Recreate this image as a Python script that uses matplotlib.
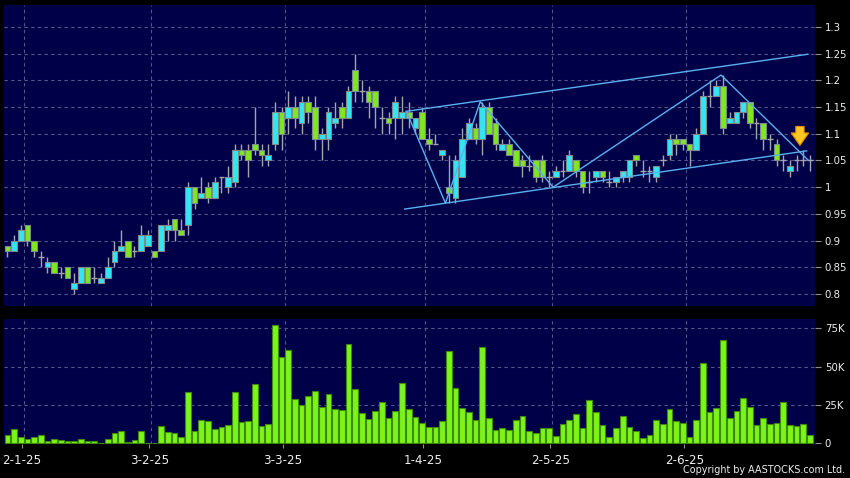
import matplotlib
matplotlib.use("Agg")
import matplotlib.pyplot as plt
import numpy as np

# ---------------- data ----------------
opens = [0.89, 0.88, 0.90, 0.93, 0.90, 0.87, 0.85, 0.86, 0.84, 0.85,
         0.81, 0.82, 0.85, 0.83, 0.82, 0.83, 0.86, 0.88, 0.90, 0.88,
         0.88, 0.89, 0.88, 0.88, 0.92, 0.94, 0.92, 0.93, 1.00, 0.98,
         1.00, 0.98, 1.02, 1.00, 1.01, 1.07, 1.07, 1.08, 1.07, 1.05,
         1.08, 1.14, 1.13, 1.15, 1.12, 1.16, 1.15, 1.09, 1.09, 1.12,
         1.15, 1.13, 1.22, 1.18, 1.18, 1.18, 1.13, 1.13, 1.13, 1.13,
         1.14, 1.11, 1.14, 1.09, 1.08, 1.06, 1.00, 0.98, 1.02, 1.09,
         1.11, 1.09, 1.15, 1.12, 1.07, 1.08, 1.07, 1.05, 1.04, 1.05,
         1.05, 1.02, 1.02, 1.03, 1.03, 1.05, 1.03, 1.01, 1.02, 1.03,
         1.01, 1.01, 1.02, 1.02, 1.06, 1.03, 1.03, 1.02, 1.05, 1.06,
         1.09, 1.09, 1.08, 1.07, 1.10, 1.17, 1.17, 1.19, 1.12, 1.12,
         1.14, 1.16, 1.12, 1.12, 1.09, 1.08, 1.05, 1.03, 1.05, 1.05,
         1.05]
highs = [0.89, 0.91, 0.93, 0.93, 0.90, 0.88, 0.87, 0.86, 0.85, 0.85,
         0.84, 0.85, 0.85, 0.85, 0.84, 0.87, 0.90, 0.92, 0.90, 0.89,
         0.93, 0.92, 0.88, 0.93, 0.94, 0.94, 0.94, 1.01, 1.00, 1.02,
         1.01, 1.02, 1.02, 1.04, 1.08, 1.08, 1.08, 1.15, 1.08, 1.08,
         1.16, 1.15, 1.18, 1.17, 1.17, 1.17, 1.17, 1.11, 1.15, 1.16,
         1.16, 1.19, 1.25, 1.20, 1.19, 1.18, 1.15, 1.14, 1.17, 1.17,
         1.16, 1.13, 1.15, 1.11, 1.10, 1.07, 1.06, 1.06, 1.11, 1.13,
         1.12, 1.16, 1.16, 1.13, 1.09, 1.09, 1.07, 1.06, 1.06, 1.05,
         1.06, 1.03, 1.04, 1.05, 1.07, 1.05, 1.03, 1.03, 1.03, 1.03,
         1.03, 1.02, 1.03, 1.05, 1.06, 1.05, 1.04, 1.04, 1.06, 1.10,
         1.10, 1.09, 1.08, 1.11, 1.18, 1.20, 1.20, 1.21, 1.14, 1.14,
         1.16, 1.16, 1.13, 1.12, 1.10, 1.09, 1.06, 1.05, 1.06, 1.07,
         1.06]
lows = [0.87, 0.88, 0.90, 0.89, 0.87, 0.85, 0.84, 0.84, 0.83, 0.83,
        0.80, 0.82, 0.82, 0.82, 0.82, 0.83, 0.85, 0.88, 0.87, 0.87,
        0.88, 0.89, 0.87, 0.88, 0.90, 0.90, 0.91, 0.91, 0.96, 0.98,
        0.97, 0.98, 0.99, 0.99, 1.00, 1.05, 1.02, 1.06, 1.04, 1.04,
        1.07, 1.07, 1.10, 1.11, 1.10, 1.12, 1.07, 1.05, 1.07, 1.11,
        1.11, 1.13, 1.16, 1.16, 1.13, 1.11, 1.10, 1.10, 1.09, 1.10,
        1.11, 1.10, 1.09, 1.07, 1.08, 1.05, 0.97, 0.97, 1.02, 1.09,
        1.08, 1.06, 1.10, 1.07, 1.07, 1.06, 1.04, 1.02, 1.03, 1.01,
        1.01, 1.00, 1.02, 1.02, 1.03, 1.02, 0.99, 0.99, 1.01, 1.01,
        1.00, 1.00, 1.01, 1.01, 1.04, 1.02, 1.01, 1.01, 1.04, 1.05,
        1.06, 1.07, 1.04, 1.07, 1.10, 1.15, 1.17, 1.10, 1.12, 1.12,
        1.13, 1.11, 1.09, 1.07, 1.07, 1.04, 1.03, 1.02, 1.03, 1.04,
        1.03]
closes = [0.88, 0.90, 0.92, 0.90, 0.88, 0.87, 0.86, 0.84, 0.84, 0.83,
          0.82, 0.85, 0.82, 0.83, 0.83, 0.85, 0.88, 0.89, 0.87, 0.88,
          0.91, 0.91, 0.87, 0.93, 0.93, 0.92, 0.91, 1.00, 0.97, 0.99,
          0.98, 1.01, 1.02, 1.02, 1.07, 1.06, 1.05, 1.07, 1.06, 1.06,
          1.14, 1.10, 1.15, 1.13, 1.16, 1.14, 1.09, 1.10, 1.14, 1.13,
          1.13, 1.18, 1.18, 1.18, 1.16, 1.15, 1.13, 1.12, 1.16, 1.14,
          1.13, 1.13, 1.09, 1.08, 1.08, 1.07, 0.99, 1.05, 1.09, 1.12,
          1.09, 1.15, 1.10, 1.08, 1.08, 1.06, 1.04, 1.04, 1.04, 1.02,
          1.02, 1.02, 1.03, 1.03, 1.06, 1.03, 1.00, 1.01, 1.03, 1.02,
          1.01, 1.02, 1.03, 1.05, 1.05, 1.03, 1.03, 1.04, 1.05, 1.09,
          1.08, 1.08, 1.07, 1.10, 1.17, 1.17, 1.19, 1.11, 1.13, 1.14,
          1.16, 1.12, 1.12, 1.09, 1.09, 1.05, 1.05, 1.04, 1.05, 1.05,
          1.05]
volumes_k = [5.4, 9.1, 4.3, 2.8, 4.3, 5.2, 1.5, 2.8, 2.2, 1.7,
             1.7, 2.6, 1.5, 1.3, 0.2, 3.0, 7.0, 8.0, 0.7, 2.2,
             7.8, 0.2, 0.4, 11.5, 7.2, 6.7, 3.9, 33.3, 8.3, 15.2,
             14.8, 9.1, 10.4, 11.7, 33.3, 13.9, 14.3, 38.7, 11.3, 12.6,
             77.2, 56.1, 60.9, 28.7, 25.0, 30.9, 34.1, 23.5, 32.0, 22.2,
             21.7, 64.8, 35.4, 19.6, 15.7, 21.3, 26.7, 16.7, 21.3, 39.1,
             22.6, 17.4, 13.0, 10.4, 10.4, 14.3, 60.0, 35.9, 22.8, 20.7,
             15.4, 63.0, 16.5, 8.5, 10.2, 8.5, 15.2, 17.8, 8.0, 6.7,
             10.0, 10.0, 4.8, 12.4, 15.2, 19.1, 10.0, 28.3, 20.7, 12.2,
             4.3, 9.8, 17.8, 10.4, 8.3, 3.5, 5.2, 15.0, 12.6, 22.2,
             14.6, 13.0, 3.9, 15.4, 52.6, 20.4, 23.3, 67.4, 16.5, 21.3,
             29.3, 23.9, 12.2, 16.5, 12.8, 13.3, 26.7, 12.2, 11.1, 12.8,
             5.2]

date_labels = ["2-1-25", "3-2-25", "3-3-25", "1-4-25", "2-5-25", "2-6-25"]
date_index = [2, 21, 41, 62, 81, 101]          # trading-day index of each label

price_ticks = [0.8, 0.85, 0.9, 0.95, 1.0, 1.05, 1.1, 1.15, 1.2, 1.25, 1.3]
price_tick_labels = ["0.8", "0.85", "0.9", "0.95", "1", "1.05", "1.1", "1.15", "1.2", "1.25", "1.3"]
vol_ticks = [0, 25000, 50000, 75000]
vol_tick_labels = ["0", "25K", "50K", "75K"]

# drawn trend lines (trading-day index, price)
upper_channel_x = [59.6, 119.7]
upper_channel_y = [1.142, 1.249]
lower_channel_x = [59.4, 119.5]
lower_channel_y = [0.959, 1.068]
zigzag_x = [59.7, 65.5, 70.7, 81.6, 106.7, 119.7]
zigzag_y = [1.141, 0.970, 1.160, 1.000, 1.210, 1.051]
arrow_index = 118.5
arrow_from, arrow_to = 1.119, 1.073

# ---------------- style ----------------
BG = "#000048"
GRID = "#56568C"
CYAN = "#30E6F2"
GREEN = "#80E61E"
EDGE = "#7C8C8C"
WICK = "#A4A4AC"
VOLC = "#7CF41A"
VOLE = "#3E8A08"
LINE = "#5AB0EE"
TXT = "#EEEEEE"

opens = np.array(opens); highs = np.array(highs)
lows = np.array(lows); closes = np.array(closes)
volumes = np.array(volumes_k) * 1000
idx = np.arange(len(opens))

fig = plt.figure(figsize=(8.5, 4.78), dpi=100, facecolor="black")
axp = fig.add_axes([4/850, 1 - 306/478, 811/850, 301/478])
axv = fig.add_axes([4/850, 1 - 444/478, 811/850, 125/478])

for ax in (axp, axv):
    ax.set_facecolor(BG)
    for s in ax.spines.values():
        s.set_visible(False)
    ax.set_xlim(-0.5, 120.75)
    ax.yaxis.tick_right()
    ax.tick_params(axis="y", colors=TXT, labelcolor=TXT, length=4, width=0.8,
                   direction="out", pad=3, labelsize=7.3, color="#909090")
    for d in date_index:
        ax.axvline(d + 0.5, color=GRID, lw=0.8, ls=(0, (3, 3)), zorder=0.5)

# price panel
axp.set_ylim(0.7775, 1.3412)
axp.set_yticks(price_ticks)
axp.set_yticklabels(price_tick_labels)
axp.set_xticks([])
for t in price_ticks:
    axp.axhline(t, color=GRID, lw=0.8, ls=(0, (3, 3)), zorder=0.5)

axp.vlines(idx, lows, highs, color=WICK, lw=1.0, zorder=2)
up = closes > opens
down = closes < opens
flat = closes == opens
w = 0.85
axp.bar(idx[up], (closes - opens)[up], bottom=opens[up], width=w,
        color=CYAN, edgecolor=EDGE, linewidth=0.8, zorder=3)
axp.bar(idx[down], (opens - closes)[down], bottom=closes[down], width=w,
        color=GREEN, edgecolor=EDGE, linewidth=0.8, zorder=3)
axp.hlines(closes[flat], idx[flat] - w / 2, idx[flat] + w / 2, color=WICK, lw=1.0, zorder=3)

axp.plot(upper_channel_x, upper_channel_y, color=LINE, lw=1.0, zorder=4)
axp.plot(lower_channel_x, lower_channel_y, color=LINE, lw=1.0, zorder=4)
axp.plot(zigzag_x, zigzag_y, color=LINE, lw=1.0, zorder=4)
axp.annotate("", xy=(arrow_index, arrow_to), xytext=(arrow_index, arrow_from),
             arrowprops=dict(arrowstyle="simple,head_length=0.75,head_width=1.05,tail_width=0.5",
                             mutation_scale=12, fc="#FFC81E", ec="#E08A00", lw=0.8),
             zorder=6)

# volume panel
axv.set_ylim(-450, 81070)
axv.set_yticks(vol_ticks)
axv.set_yticklabels(vol_tick_labels)
for t in vol_ticks[1:]:
    axv.axhline(t, color=GRID, lw=0.8, ls=(0, (3, 3)), zorder=0.5)
axv.bar(idx, volumes, width=w, color=VOLC, edgecolor=VOLE, linewidth=0.8, zorder=3)
axv.set_xticks([d + 0.2 for d in date_index])
axv.set_xticklabels(date_labels)
axv.tick_params(axis="x", colors="#909090", labelcolor=TXT, length=3, width=0.8,
                direction="out", pad=4, labelsize=8.6)

fig.text(845/850, 1 - 470/478, "Copyright by AASTOCKS.com Ltd.", color=TXT,
         fontsize=6.9, ha="right", va="center")

fig.savefig("out.png", dpi=100, facecolor="black")
